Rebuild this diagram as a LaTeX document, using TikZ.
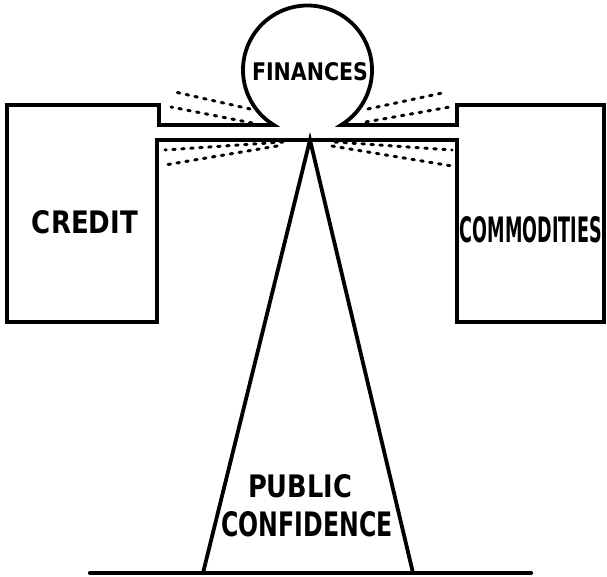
\documentclass[tikz,border=0pt]{standalone}
\usepackage{graphicx}
\usepackage{fontspec}
\newfontfamily\lblfont{DejaVu Sans}
\newcommand{\lbltext}[3]{\resizebox{#1pt}{#2pt}{\lblfont\bfseries #3}}
\begin{document}
\begin{tikzpicture}[x=1pt,y=1pt,
  outline/.style={draw=black,line width=3.8pt,line join=miter,line cap=round},
  rays/.style={draw=black,line width=3pt,line cap=round,dash pattern=on 2.5pt off 6.5pt},
  lbl/.style={inner sep=0pt,outer sep=0pt,anchor=center}]
\useasboundingbox (0,0) rectangle (607,577);
% key points (y measured upward)
\coordinate (boxLtl) at (7,472);
\coordinate (boxLbl) at (7,255);
\coordinate (boxRtr) at (604,472);
\coordinate (boxRbr) at (604,255);
\coordinate (cc) at (307.5,507);
\coordinate (apex) at (310,437);
\coordinate (baseL) at (203,4);
\coordinate (baseR) at (413,4);
\coordinate (groundL) at (90,4);
\coordinate (groundR) at (531,4);
% main outline: boxes, beam and the ball
\draw[outline] (boxLtl) -- (159,472) -- (159,452) -- (273.8,452)
  arc[start angle=238.5,end angle=-58.5,radius=64.5]
  -- (457,452) -- (457,472) -- (boxRtr) -- (boxRbr) -- (457,255)
  -- (457,437) -- (157,437) -- (157,255) -- (boxLbl) -- cycle;
% pillar and ground
\draw[outline] (baseL) -- (apex) -- (baseR);
\draw[outline,line width=4.2pt] (groundL) -- (groundR);
% radiating dotted lines
\coordinate (u1a) at (250,468); \coordinate (u1b) at (175,485);
\coordinate (u2a) at (252,454); \coordinate (u2b) at (171,470);
\coordinate (u3a) at (368,468); \coordinate (u3b) at (447,485);
\coordinate (u4a) at (366,455); \coordinate (u4b) at (450,470);
\coordinate (d1a) at (283,435); \coordinate (d1b) at (165,427);
\coordinate (d2a) at (277,431); \coordinate (d2b) at (165,412);
\coordinate (d3a) at (335,435); \coordinate (d3b) at (452,427);
\coordinate (d4a) at (332,431); \coordinate (d4b) at (452,411);
\foreach \a/\b in {u1a/u1b,u2a/u2b,u3a/u3b,u4a/u4b,d1a/d1b,d2a/d2b,d3a/d3b,d4a/d4b}
  \draw[rays] (\a) -- (\b);
% labels
\node[lbl] (fin) at (310,505) {\lbltext{116}{18}{FINANCES}};
\node[lbl] (cred) at (85,355) {\lbltext{106}{23}{CREDIT}};
\node[lbl] (comm) at (531,347) {\lbltext{142}{26}{COMMODITIES}};
\node[lbl] (pub) at (300,91) {\lbltext{104}{23}{PUBLIC}};
\node[lbl] (conf) at (307,53) {\lbltext{171}{25}{CONFIDENCE}};
\end{tikzpicture}
\end{document}
